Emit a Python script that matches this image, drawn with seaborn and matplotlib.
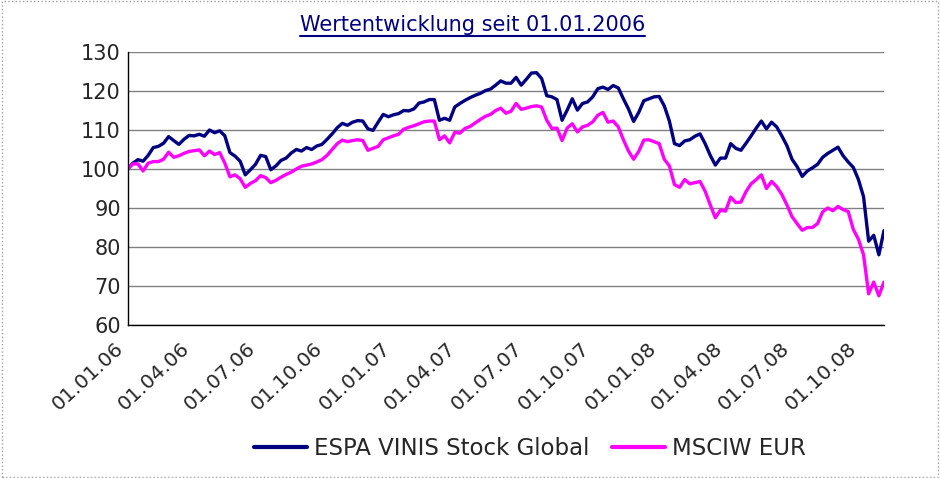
import pandas as pd
import seaborn as sns
import matplotlib.pyplot as plt
from matplotlib.lines import Line2D
from matplotlib.patches import Rectangle
from matplotlib.transforms import IdentityTransform, offset_copy
import matplotlib.dates as mdates

# weekly readings, 01.01.2006 .. 02.11.2008
dates = pd.date_range('2006-01-01', periods=149, freq='7D')

espa = [
    100, 101.5, 102.4, 102, 103.5, 105.5, 105.8, 106.6, 108.3, 107.3,
    106.3, 107.6, 108.6, 108.5, 108.9, 108.4, 110, 109.3, 109.8, 108.5,
    104.2, 103.3, 102, 98.5, 99.8, 101.2, 103.5, 103.2, 99.8, 100.8,
    102.2, 102.8, 104.1, 105, 104.6, 105.5, 105, 105.9, 106.3, 107.6,
    109, 110.6, 111.7, 111.2, 112, 112.4, 112.3, 110.3, 109.9, 112,
    114, 113.4, 113.9, 114.2, 115, 114.9, 115.4, 116.9, 117.2, 117.8,
    117.8, 112.5, 113, 112.5, 115.9, 116.8, 117.6, 118.3, 118.9, 119.4,
    120.1, 120.5, 121.5, 122.6, 122, 122, 123.5, 121.5, 123, 124.6,
    124.7, 123.2, 118.8, 118.5, 117.8, 112.5, 115.1, 118, 115.1, 116.8,
    117.2, 118.5, 120.6, 121, 120.4, 121.4, 120.8, 118, 115.4, 112.2,
    114.5, 117.5, 118, 118.5, 118.6, 116.2, 112.3, 106.5, 106, 107.2,
    107.5, 108.4, 109, 106.5, 103.5, 101, 102.8, 102.8, 106.5, 105.3,
    104.8, 106.6, 108.5, 110.5, 112.3, 110.3, 112, 110.8, 108.5, 106,
    102.5, 100.6, 98.1, 99.5, 100.3, 101.2, 103, 104, 104.8, 105.6,
    103.4, 101.8, 100.4, 97.3, 92.9, 81.5, 83, 78, 84.2,
]

msciw = [
    100, 101.3, 101.3, 99.5, 101.5, 101.9, 101.9, 102.5, 104.3, 103,
    103.4, 104, 104.5, 104.7, 104.9, 103.4, 104.6, 103.7, 104.2, 101.5,
    98, 98.5, 97.5, 95.3, 96.3, 97, 98.3, 97.8, 96.5, 97.1,
    97.9, 98.6, 99.2, 100, 100.7, 101, 101.3, 101.8, 102.4, 103.5,
    105, 106.5, 107.4, 107, 107.3, 107.5, 107.3, 104.8, 105.3, 105.8,
    107.5, 108, 108.5, 108.9, 110.2, 110.7, 111.1, 111.6, 112.1, 112.3,
    112.3, 107.5, 108.5, 106.7, 109.4, 109.2, 110.4, 110.9, 111.8, 112.7,
    113.5, 114, 115, 115.6, 114.3, 114.8, 116.8, 115.3, 115.6, 116,
    116.2, 115.9, 112.5, 110.4, 110.5, 107.3, 110.5, 111.6, 109.5, 110.8,
    111.2, 112.1, 113.8, 114.5, 112, 112.3, 110.8, 107.5, 104.6, 102.5,
    104.5, 107.4, 107.5, 107, 106.5, 102.5, 100.8, 96, 95.3, 97.3,
    96.2, 96.5, 96.8, 94.3, 90.8, 87.5, 89.5, 89.2, 92.8, 91.4,
    91.5, 94.2, 96.2, 97.3, 98.5, 95, 96.8, 95.5, 93.5, 90.8,
    87.8, 86, 84.3, 85, 85, 86, 89, 90, 89.3, 90.4,
    89.6, 89.1, 84.5, 82, 78, 68, 71, 67.5, 71,
]

names = ['ESPA VINIS Stock Global', 'MSCIW EUR']
colors = ['#000080', '#ff00ff']

df = pd.concat([
    pd.DataFrame({'date': dates, 'value': espa, 'fund': names[0]}),
    pd.DataFrame({'date': dates, 'value': msciw, 'fund': names[1]}),
])

sns.set_style('white')
plt.rcParams['font.family'] = ['DejaVu Sans']

fig = plt.figure(figsize=(9.4, 4.78), dpi=100)
ax = fig.add_axes([0.1359, 0.3201, 0.9404 - 0.1359, 0.8912 - 0.3201])

sns.lineplot(data=df, x='date', y='value', hue='fund', palette=colors,
             linewidth=2.4, ax=ax, legend=False)

ax.set_ylim(60, 130)
ax.set_yticks(range(60, 131, 10))
ax.set_xlim(dates[0], dates[-1])
ax.xaxis.set_major_locator(mdates.MonthLocator(bymonth=[1, 4, 7, 10]))
ax.xaxis.set_major_formatter(mdates.DateFormatter('%d.%m.%y'))
ax.grid(axis='y', color='#808080', linewidth=1)
ax.set_axisbelow(True)
ax.set_xlabel('')
ax.set_ylabel('')

for s in ['top', 'right']:
    ax.spines[s].set_visible(False)
for s in ['left', 'bottom']:
    ax.spines[s].set_color('black')
    ax.spines[s].set_linewidth(1)

ax.tick_params(axis='y', length=5, width=1, color='black', pad=0, labelsize=15)
ax.tick_params(axis='x', length=5, width=1, color='black', pad=10, labelsize=14.5)
for lab in ax.get_xticklabels():
    lab.set_rotation(43)
    lab.set_ha('right')
    lab.set_va('center')
    lab.set_rotation_mode('anchor')
    lab.set_transform(offset_copy(lab.get_transform(), fig=fig, x=-7, y=0, units='dots'))

handles = [Line2D([], [], color=c, linewidth=3) for c in colors]
fig.legend(handles, names, loc='center', bbox_to_anchor=(0.564, 0.061), ncol=2,
           frameon=False, fontsize=16.5, handlelength=2.3, handletextpad=0.3,
           columnspacing=1.0)

title = fig.text(0.5025, 1 - 25 / 478, 'Wertentwicklung seit 01.01.2006',
                 ha='center', va='center', fontsize=15, color='#000080')

# underline for the title
fig.canvas.draw()
bb = title.get_window_extent()
fig.add_artist(Line2D([bb.x0, bb.x1], [bb.y0 - 1, bb.y0 - 1], color='#000080',
                      linewidth=1.5, transform=IdentityTransform()))

# dotted frame round the chart
fig.add_artist(Rectangle((0.002, 0.003), 0.996, 0.994, transform=fig.transFigure,
                         fill=False, edgecolor='#a0a0a0', linestyle=':', linewidth=1))

fig.savefig('out.png', dpi=100)
